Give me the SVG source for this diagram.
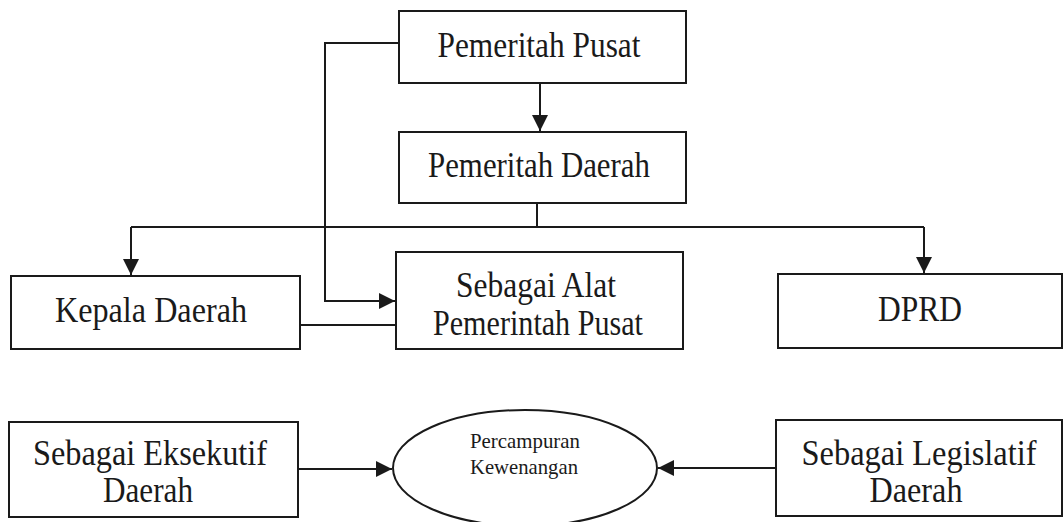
<svg xmlns="http://www.w3.org/2000/svg" width="1064" height="522" viewBox="0 0 1064 522">
<style>
.box{fill:#fff;stroke:#1a1a1a;stroke-width:2}
.lbl{font-family:"Liberation Serif","Times New Roman",serif;font-size:35px;fill:#1a1a1a;text-anchor:middle}
.sm{font-family:"Liberation Serif","Times New Roman",serif;font-size:21px;fill:#1a1a1a;text-anchor:middle}
.ln{fill:none;stroke:#1a1a1a;stroke-width:2}
</style>
<defs>
<marker id="arr" markerUnits="userSpaceOnUse" markerWidth="18" markerHeight="18" refX="16" refY="8" orient="auto">
<path d="M0,0 L16,8 L0,16 Z" fill="#1a1a1a"/>
</marker>
</defs>
<rect width="1064" height="522" fill="#fff"/>
<g id="connectors">
<line class="ln" x1="540" y1="83" x2="540" y2="131" marker-end="url(#arr)"/>
<polyline class="ln" points="399,43 325,43 325,301 395,301" marker-end="url(#arr)"/>
<line class="ln" x1="537" y1="203" x2="537" y2="227"/>
<polyline class="ln" points="131,227 924,227"/>
<line class="ln" x1="131" y1="227" x2="131" y2="275" marker-end="url(#arr)"/>
<line class="ln" x1="924" y1="227" x2="924" y2="273" marker-end="url(#arr)"/>
<line class="ln" x1="300" y1="325" x2="396" y2="325"/>
<line class="ln" x1="298" y1="469" x2="392" y2="469" marker-end="url(#arr)"/>
<line class="ln" x1="776" y1="468" x2="658" y2="468" marker-end="url(#arr)"/>
</g>
<g id="pemerintah-pusat">
<rect class="box" x="399" y="11" width="287" height="72"/>
<text class="lbl" x="539" y="57" textLength="203" lengthAdjust="spacingAndGlyphs">Pemeritah Pusat</text>
</g>
<g id="pemerintah-daerah">
<rect class="box" x="399" y="132" width="287" height="71"/>
<text class="lbl" x="539" y="177" textLength="222" lengthAdjust="spacingAndGlyphs">Pemeritah Daerah</text>
</g>
<g id="kepala-daerah">
<rect class="box" x="11" y="276" width="289" height="73"/>
<text class="lbl" x="151" y="322" textLength="192" lengthAdjust="spacingAndGlyphs">Kepala Daerah</text>
</g>
<g id="alat-pusat">
<rect class="box" x="396" y="252" width="287" height="97"/>
<text class="lbl" x="536" y="297" textLength="160" lengthAdjust="spacingAndGlyphs">Sebagai Alat</text>
<text class="lbl" x="538" y="335" textLength="210" lengthAdjust="spacingAndGlyphs">Pemerintah Pusat</text>
</g>
<g id="dprd">
<rect class="box" x="778" y="274" width="284" height="74"/>
<text class="lbl" x="920" y="321" textLength="84" lengthAdjust="spacingAndGlyphs">DPRD</text>
</g>
<g id="eksekutif">
<rect class="box" x="9" y="422" width="289" height="95"/>
<text class="lbl" x="150" y="465" textLength="234" lengthAdjust="spacingAndGlyphs">Sebagai Eksekutif</text>
<text class="lbl" x="148" y="502" textLength="90" lengthAdjust="spacingAndGlyphs">Daerah</text>
</g>
<g id="percampuran">
<ellipse class="box" cx="525" cy="468" rx="132" ry="58"/>
<text class="sm" x="525" y="448" textLength="110" lengthAdjust="spacingAndGlyphs">Percampuran</text>
<text class="sm" x="524" y="474" textLength="108" lengthAdjust="spacingAndGlyphs">Kewenangan</text>
</g>
<g id="legislatif">
<rect class="box" x="776" y="420" width="286" height="96"/>
<text class="lbl" x="919" y="465" textLength="235" lengthAdjust="spacingAndGlyphs">Sebagai Legislatif</text>
<text class="lbl" x="916" y="502" textLength="93" lengthAdjust="spacingAndGlyphs">Daerah</text>
</g>
</svg>
